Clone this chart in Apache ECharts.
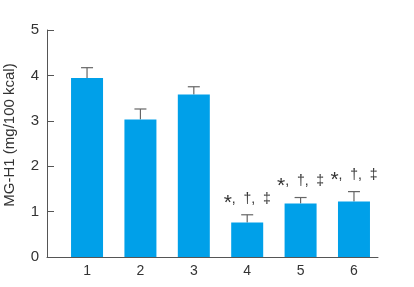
<!DOCTYPE html>
<html><head><meta charset="utf-8">
<script src="https://cdn.jsdelivr.net/npm/echarts@6/dist/echarts.min.js"></script>
<style>html,body{margin:0;padding:0;background:#fff}#c{width:414px;height:287px}</style>
</head><body><div id="c"></div>
<script>
var categories = ['1', '2', '3', '4', '5', '6'];
var means = [3.94, 3.03, 3.58, 0.76, 1.18, 1.22];
var errTops = [4.17, 3.26, 3.75, 0.93, 1.31, 1.44];
var marks = ['', '', '', '*, †, ‡', '*, †, ‡', '*, †, ‡'];
var yTicks = [0, 1, 2, 3, 4, 5];
var yName = 'MG-H1 (mg/100 kcal)';

var pos = categories.map(function (c, i) { return i + 1; });
var barData = pos.map(function (p, i) { return [p, means[i]]; });
var errData = pos.map(function (p, i) { return [p, means[i], errTops[i]]; });
var markData = pos.map(function (p, i) { return [p, errTops[i], marks[i]]; });

var chart = echarts.init(document.getElementById('c'), null, {renderer: 'canvas'});
var axisColor = '#555';
chart.setOption({
  animation: false,
  grid: {left: 47, right: 36, top: 30, bottom: 30, containLabel: false},
  xAxis: {
    type: 'value', min: 0.25, max: 6.45,
    axisLine: {show: true, lineStyle: {color: axisColor, width: 1}},
    axisTick: {show: false},
    splitLine: {show: false},
    axisLabel: {
      customValues: pos, color: '#333', fontSize: 14, margin: 7,
      fontFamily: 'Liberation Sans',
      formatter: function (v) { return categories[Math.round(v) - 1] || ''; }
    }
  },
  yAxis: {
    type: 'value', min: yTicks[0], max: yTicks[yTicks.length - 1], interval: 1,
    axisLine: {show: true, lineStyle: {color: axisColor, width: 1}},
    axisTick: {show: true, inside: true, length: 7, lineStyle: {color: axisColor}},
    splitLine: {show: false},
    axisLabel: {color: '#333', fontSize: 15, margin: 8, fontFamily: 'Liberation Sans'}
  },
  graphic: [{
    type: 'text', x: 10, y: 135, rotation: Math.PI / 2,
    style: {text: yName, fill: '#333', fontSize: 15, fontFamily: 'Liberation Sans',
      align: 'center', verticalAlign: 'middle'}
  }],
  series: [
    {
      type: 'bar', data: barData, barWidth: 32,
      itemStyle: {color: '#00a0e9'}, z: 2
    },
    {
      type: 'custom', data: errData, z: 1,
      renderItem: function (params, api) {
        var x = api.value(0);
        var b = api.coord([x, api.value(1)]);
        var t = api.coord([x, api.value(2)]);
        var hw = 6;
        var st = {stroke: '#666', lineWidth: 1.2, fill: null};
        return {type: 'group', children: [
          {type: 'line', shape: {x1: b[0], y1: b[1], x2: t[0], y2: t[1]}, style: st},
          {type: 'line', shape: {x1: t[0] - hw, y1: t[1], x2: t[0] + hw, y2: t[1]}, style: st}
        ]};
      }
    },
    {
      type: 'custom', data: markData, z: 3,
      renderItem: function (params, api) {
        var p = api.coord([api.value(0), api.value(1)]);
        var m = marks[params.dataIndex];
        if (!m) return null;
        var first = m.charAt(0);
        var rest = m.slice(1).replace(/, /g, ',  ');
        return {type: 'text', x: p[0], y: p[1] - 16,
          style: {text: '{s|' + first + '}{t|' + rest + '}', fill: '#333',
            fontFamily: 'Liberation Sans', align: 'center', verticalAlign: 'middle',
            rich: {
              s: {fontSize: 21, fontFamily: 'Liberation Sans', fill: '#333', padding: [9, 0, 0, 0]},
              t: {fontSize: 14, fontFamily: 'Liberation Sans', fill: '#333'}
            }}};
      }
    }
  ]
});
</script></body></html>
